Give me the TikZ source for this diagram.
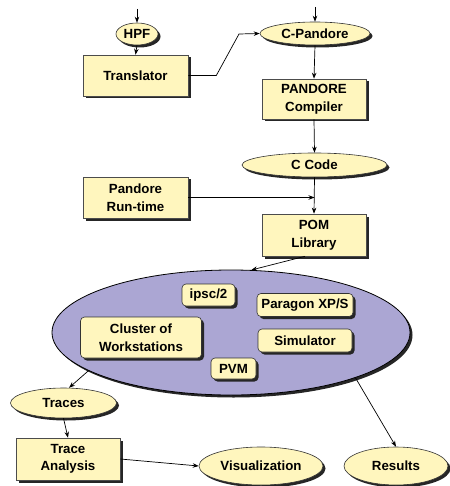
\documentclass[tikz,border=0pt]{standalone}
\usepackage{fontspec}
\setmainfont{Liberation Sans}
\usetikzlibrary{shapes.geometric,shadows,arrows.meta}
\definecolor{boxfill}{HTML}{FFF6BE}
\definecolor{netfill}{HTML}{ABA6D3}
\begin{document}
\begin{tikzpicture}[x=1pt,y=-1pt,
  font=\fontsize{13.3}{17.5}\selectfont\bfseries,
  shd/.style={drop shadow={shadow xshift=2.5pt,shadow yshift=-2.5pt,opacity=1,fill=black!85}},
  stepbox/.style={draw=black!70,line width=0.6pt,fill=boxfill,shd,align=center,inner sep=0pt},
  oval/.style={ellipse,draw=black!80,line width=0.6pt,fill=boxfill,shd,align=center,inner sep=0pt},
  plat/.style={draw=black!80,line width=0.6pt,fill=boxfill,rounded corners=4pt,shd,align=center,inner sep=0pt},
  conn/.style={line width=0.7pt,-{Stealth[length=6pt,width=4.5pt]}}]
\useasboundingbox (0,0) rectangle (449,486);
% nodes
\node[oval,minimum width=42,minimum height=22] (hpf) at (137,34) {HPF};
\node[stepbox,minimum width=105,minimum height=41] (trans) at (135.5,75.5) {Translator};
\node[oval,minimum width=110,minimum height=23] (cpan) at (315,33.5) {C-Pandore};
\node[stepbox,minimum width=104,minimum height=40] (comp) at (314,99) {PANDORE\\Compiler};
\node[oval,minimum width=145,minimum height=24] (ccode) at (314.5,165) {C Code};
\node[stepbox,minimum width=105,minimum height=41] (rt) at (135.5,197.5) {Pandore\\Run-time};
\node[stepbox,minimum width=104,minimum height=42] (pom) at (314,235) {POM\\Library};
\node[ellipse,draw=black,line width=0.8pt,fill=netfill,shd,minimum width=358,minimum height=125,inner sep=0pt] (net) at (231,332.5) {};
\node[plat,minimum width=53,minimum height=22] (ipsc) at (208.5,295) {ipsc/2};
\node[plat,minimum width=96,minimum height=23] (parag) at (305,305) {Paragon XP/S};
\node[plat,minimum width=121,minimum height=41] (cow) at (141,337.5) {Cluster of\\Workstations};
\node[plat,minimum width=94,minimum height=23] (sim) at (305,340.5) {Simulator};
\node[plat,minimum width=45,minimum height=21] (pvm) at (233.5,368.5) {PVM};
\node[oval,minimum width=106,minimum height=30] (traces) at (63.5,403) {Traces};
\node[stepbox,minimum width=104,minimum height=42] (tana) at (68,459) {Trace\\Analysis};
\node[oval,minimum width=124,minimum height=38] (vis) at (261,466) {Visualization};
\node[oval,minimum width=104,minimum height=38] (res) at (396,466) {Results};
\coordinate (hpfin) at (137,9);
\coordinate (cpanin) at (315,7);
% connectors
\draw[conn] (hpfin) -- (hpf.north);
\draw[conn] (hpf.south) -- (trans.north);
\draw[conn] (cpanin) -- (cpan.north);
\draw[conn] (trans.east) -- ++(28,0) -- (239,34) -- (cpan.west);
\draw[conn] (cpan.south) -- (comp.north);
\draw[conn] (comp.south) -- (ccode.north);
\draw[conn] (ccode.south) -- (pom.north);
\draw[conn] (rt.east) -- (rt.east -| ccode.south);
\draw[conn] ([xshift=-9pt]pom.south) -- (net.72);
\draw[conn] (net.195) -- (traces.70);
\draw[conn] (traces.south) -- (tana.north);
\draw[conn] (tana.east) -- (vis.west);
\draw[conn] (net.-20) -- (res.north);
\end{tikzpicture}
\end{document}
